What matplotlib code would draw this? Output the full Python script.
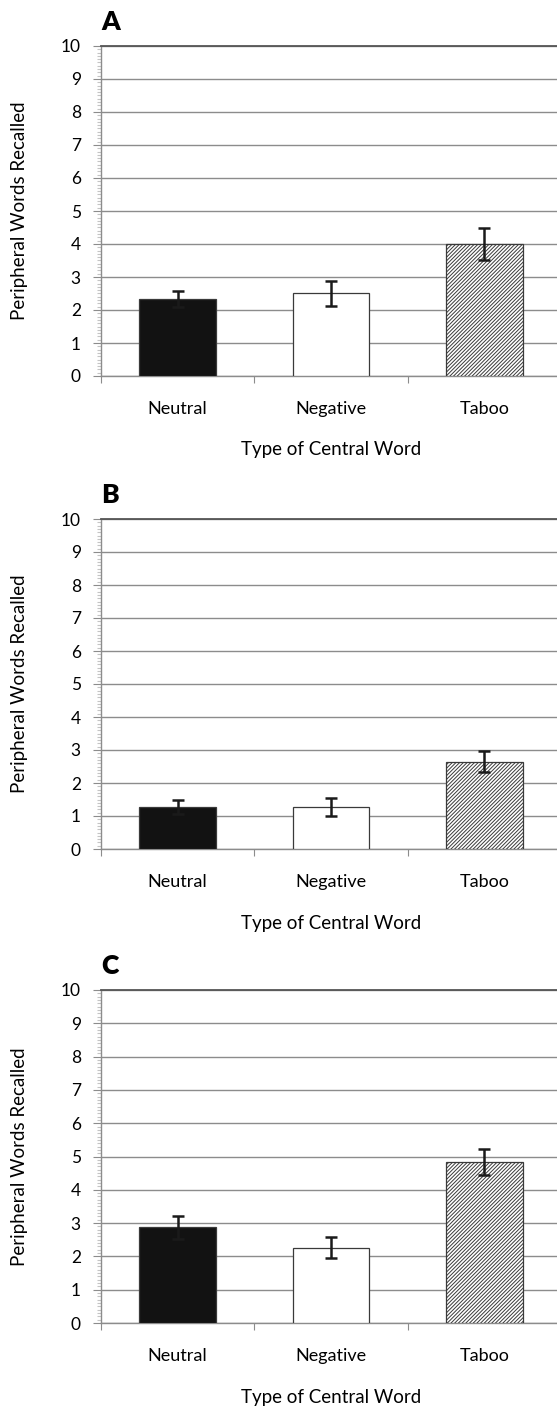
import matplotlib
matplotlib.use("Agg")
import matplotlib.pyplot as plt
from matplotlib.ticker import MultipleLocator

plt.rcParams["font.family"] = ["Lato", "DejaVu Sans"]
plt.rcParams["hatch.linewidth"] = 0.7
plt.rcParams["hatch.color"] = "#808080"

categories = ["Neutral", "Negative", "Taboo"]
panels = ["A", "B", "C"]
means = {
    "A": [2.33, 2.50, 4.00],
    "B": [1.28, 1.28, 2.65],
    "C": [2.87, 2.26, 4.83],
}
errors = {
    "A": [0.25, 0.37, 0.47],
    "B": [0.22, 0.28, 0.33],
    "C": [0.35, 0.32, 0.40],
}
bar_colors = ["#121212", "white", "white"]
bar_hatch = [None, None, "/" * 9]

W, H = 557, 1407
# top / bottom of each plot area in pixels
panel_px = {"A": (46, 376), "B": (519, 849), "C": (990, 1323)}
left_px, right_px = 101, 561

fig = plt.figure(figsize=(W / 100, H / 100), dpi=100)

for p in panels:
    top, bot = panel_px[p]
    ax = fig.add_axes([left_px / W, 1 - bot / H, (right_px - left_px) / W, (bot - top) / H])
    x = list(range(len(categories)))
    bars = ax.bar(x, means[p], width=0.5, color=bar_colors, edgecolor="#3a3a3a",
                  linewidth=0.9, zorder=3)
    for b, h in zip(bars, bar_hatch):
        if h:
            b.set_hatch(h)
    ax.errorbar(x, means[p], yerr=errors[p], fmt="none", ecolor="#1a1a1a",
                elinewidth=1.8, capsize=4.5, capthick=1.8, zorder=4)

    ax.set_xlim(-0.5, 2.5)
    ax.set_ylim(0, 10)
    ax.set_yticks(range(0, 11))
    ax.yaxis.set_minor_locator(MultipleLocator(0.1))
    ax.grid(axis="y", color="#8c8c8c", linewidth=1.0, zorder=0)
    ax.set_axisbelow(True)

    # category boundaries as major ticks, labels on minor ticks at centres
    ax.set_xticks([-0.5, 0.5, 1.5, 2.5])
    ax.set_xticklabels([])
    ax.set_xticks(x, categories, minor=True)
    ax.tick_params(axis="x", which="major", length=5, color="#8c8c8c", direction="out")
    ax.tick_params(axis="x", which="minor", length=0, pad=18, labelsize=13)
    ax.tick_params(axis="y", which="major", length=6, color="#8c8c8c", pad=8.5,
                   labelsize=12.5)
    ax.tick_params(axis="y", which="minor", length=3, color="#c4c4c4", width=0.8)

    for s in ["left", "bottom"]:
        ax.spines[s].set_color("#8c8c8c")
        ax.spines[s].set_linewidth(1.0)
    ax.spines["top"].set_color("#555555")
    ax.spines["top"].set_linewidth(1.3)
    ax.spines["right"].set_visible(False)

    ax.set_xlabel("Type of Central Word", fontsize=13.5)
    ax.xaxis.set_label_coords(0.5, -74 / (bot - top))
    ax.xaxis.label.set_va("center")
    ax.set_ylabel("Peripheral Words Recalled", fontsize=13.5)
    ax.yaxis.set_label_coords((20 - left_px) / (right_px - left_px), 0.5)
    ax.yaxis.label.set_va("center")

    ax.text(0, 1 + 16 / (bot - top), p, transform=ax.transAxes, fontsize=19,
            fontweight="heavy", va="baseline", ha="left")

fig.savefig("out.png", dpi=100)
